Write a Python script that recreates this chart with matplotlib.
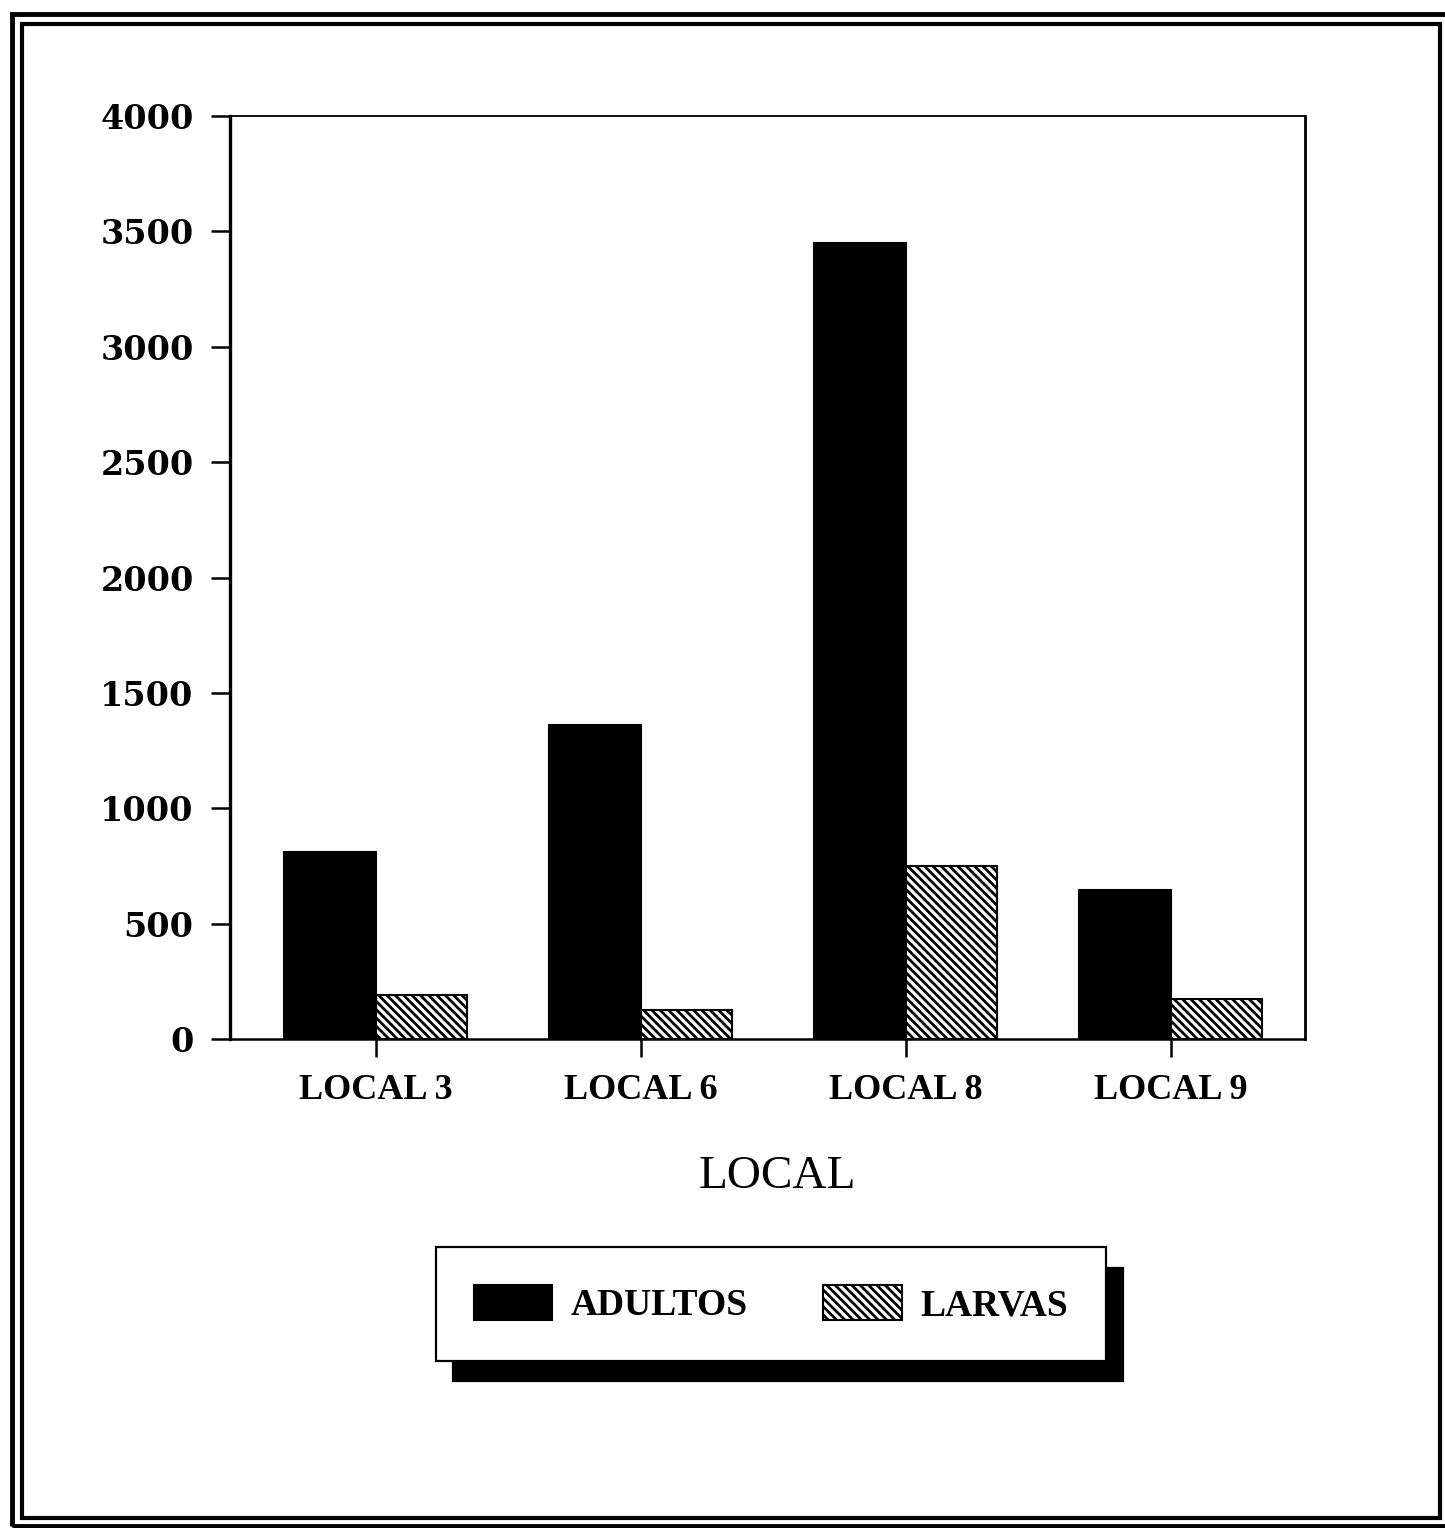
import numpy as np
import matplotlib
matplotlib.use("Agg")
import matplotlib.pyplot as plt
from matplotlib.patches import Rectangle

# data
locais = ['LOCAL 3', 'LOCAL 6', 'LOCAL 8', 'LOCAL 9']
adultos = [810, 1360, 3450, 645]
larvas = [190, 125, 750, 175]
yticks = [0, 500, 1000, 1500, 2000, 2500, 3000, 3500, 4000]

plt.rcParams['hatch.linewidth'] = 2.0
plt.rcParams['hatch.color'] = 'black'

fig = plt.figure(figsize=(14.45, 15.28), dpi=100)
ax = fig.add_axes([0.159, 0.320, 0.744, 0.604])

x = np.arange(len(locais))
w = 0.345
ax.bar(x - w / 2, adultos, w, color='black', edgecolor='black', linewidth=1.5, label='ADULTOS')
ax.bar(x + w / 2, larvas, w, color='white', edgecolor='black', linewidth=1.5,
       hatch='\\\\\\\\', label='LARVAS')

ax.set_xlim(-0.55, 3.505)
ax.set_ylim(0, 4000)
ax.set_yticks(yticks)
ax.set_yticklabels([str(v) for v in yticks], fontsize=24, fontweight='bold', family='DejaVu Serif')
ax.set_xticks(x)
ax.set_xticklabels(locais, fontsize=26, family='Liberation Serif', fontweight='bold')
ax.tick_params(axis='y', direction='out', length=14, width=1.8, pad=12)
ax.tick_params(axis='x', direction='out', length=13, width=1.8, pad=12)
ax.set_xlabel('LOCAL', fontsize=34, family='Liberation Serif')
ax.xaxis.set_label_coords(0.509, -0.126)

ax.spines['left'].set_linewidth(2.4)
ax.spines['bottom'].set_linewidth(1.8)
ax.spines['top'].set_linewidth(1.3)
ax.spines['right'].set_linewidth(2.0)

leg = fig.legend(loc='center', bbox_to_anchor=(0.5336, 0.1466), ncol=2,
                 prop={'family': 'Liberation Serif', 'size': 27, 'weight': 'bold'},
                 handlelength=2.1, handleheight=1.05, handletextpad=0.5,
                 columnspacing=2.0, borderpad=1.0, fancybox=False, framealpha=1,
                 edgecolor='black',
                 shadow={'ox': 12, 'oy': -15, 'facecolor': 'black', 'edgecolor': 'black', 'alpha': 1})
leg.get_frame().set_linewidth(1.6)

# double page frame
fig.patches.append(Rectangle((12 / 1445, 1 - 1526 / 1528), (1452 - 12) / 1445, (1526 - 14) / 1528,
                             transform=fig.transFigure, fill=False, edgecolor='black',
                             linewidth=3.5))
fig.patches.append(Rectangle((22 / 1445, 1 - 1518 / 1528), (1440 - 22) / 1445, (1518 - 24) / 1528,
                             transform=fig.transFigure, fill=False, edgecolor='black',
                             linewidth=3.0))

fig.savefig('out.png', dpi=100, facecolor='white')
